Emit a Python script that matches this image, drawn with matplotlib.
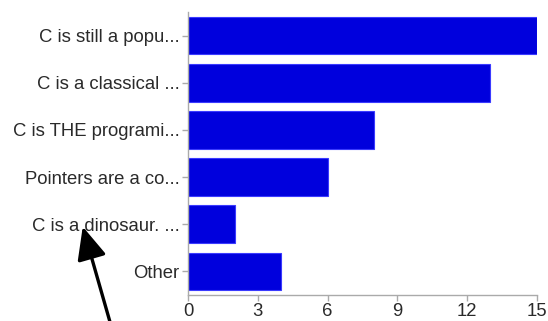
import matplotlib
matplotlib.use('Agg')
import matplotlib.pyplot as plt

labels = ['C is still a popu...', 'C is a classical ...', 'C is THE programi...',
          'Pointers are a co...', 'C is a dinosaur. ...', 'Other']
counts = [15, 13, 8, 6, 2, 4]
xticks = [0, 3, 6, 9, 12, 15]

plt.rcParams['font.family'] = ['Liberation Sans', 'DejaVu Sans']

fig = plt.figure(figsize=(5.48, 3.21), dpi=100)
ax = fig.add_axes([188/548, 1-295/321, (537-188)/548, (295-12)/321])

pos = list(range(len(labels)))
ax.barh(pos, counts, height=0.8, color='#0000dd', edgecolor='#3a3aff', lw=0.8)
ax.set_ylim(len(labels)-0.5, -0.5)
ax.set_xlim(0, 15)
ax.set_yticks(pos)
ax.set_yticklabels(labels, fontsize=13.3)
ax.set_xticks(xticks)
ax.set_xticklabels([str(t) for t in xticks], fontsize=13.3)

for s in ['top', 'right']:
    ax.spines[s].set_visible(False)
for s in ['left', 'bottom']:
    ax.spines[s].set_color('#aaaaaa')
    ax.spines[s].set_linewidth(1)
ax.tick_params(axis='both', colors='#aaaaaa', length=4, width=1, labelcolor='#2a2a2a')
ax.tick_params(axis='x', pad=2)
ax.tick_params(axis='y', pad=2)

# pointer drawn over the "dinosaur" label
ax.annotate('', xy=(82, 97), xycoords='figure pixels',
            xytext=(112, -8), textcoords='figure pixels',
            arrowprops=dict(arrowstyle='-|>,head_length=2.0,head_width=0.9',
                            color='black', lw=2.4),
            annotation_clip=False)

fig.savefig('out.png', dpi=100)
